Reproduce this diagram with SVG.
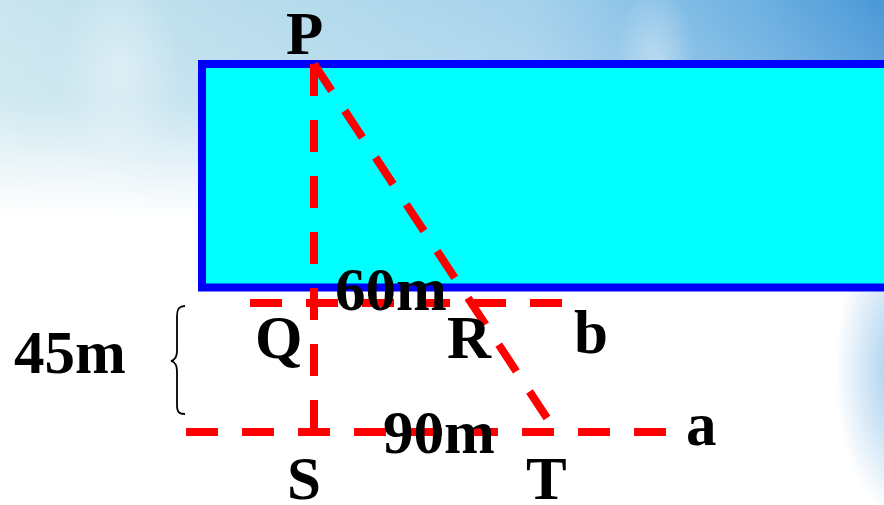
<svg xmlns="http://www.w3.org/2000/svg" width="884" height="505" viewBox="0 0 884 505">
  <defs>
    <linearGradient id="skyH" x1="0" y1="0" x2="1" y2="0">
      <stop offset="0" stop-color="#c9e5ee"/>
      <stop offset="0.35" stop-color="#b4daec"/>
      <stop offset="0.6" stop-color="#a6d2ec"/>
      <stop offset="0.85" stop-color="#6fb2e2"/>
      <stop offset="1" stop-color="#4a98d8"/>
    </linearGradient>
    <linearGradient id="fadeV" x1="0" y1="0" x2="0" y2="1">
      <stop offset="0" stop-color="#fff" stop-opacity="1"/>
      <stop offset="0.45" stop-color="#fff" stop-opacity="0.85"/>
      <stop offset="1" stop-color="#fff" stop-opacity="0"/>
    </linearGradient>
    <mask id="skyMask">
      <rect x="0" y="0" width="884" height="220" fill="url(#fadeV)"/>
    </mask>
    <radialGradient id="rightBlue" cx="0.5" cy="0.5" r="0.5">
      <stop offset="0" stop-color="#8cc0e8" stop-opacity="0.9"/>
      <stop offset="1" stop-color="#8cc0e8" stop-opacity="0"/>
    </radialGradient>
    <radialGradient id="whiteGlow" cx="0.5" cy="0.5" r="0.5">
      <stop offset="0" stop-color="#ffffff" stop-opacity="0.4"/>
      <stop offset="1" stop-color="#ffffff" stop-opacity="0"/>
    </radialGradient>
    <style>
      .lbl { font-family: "Liberation Serif", "Times New Roman", serif; font-weight: bold; font-size: 61px; fill: #000; }
      .dash { stroke: #ff0000; stroke-width: 8; fill: none; stroke-dasharray: 32 24; }
    </style>
  </defs>

  <!-- background -->
  <rect x="0" y="0" width="884" height="505" fill="#ffffff"/>
  <rect x="0" y="0" width="884" height="220" fill="url(#skyH)" mask="url(#skyMask)"/>
  <ellipse cx="120" cy="70" rx="60" ry="100" fill="url(#whiteGlow)"/>
  <ellipse cx="655" cy="70" rx="40" ry="90" fill="url(#whiteGlow)"/>
  <ellipse cx="60" cy="230" rx="140" ry="90" fill="url(#whiteGlow)"/>
  <ellipse cx="905" cy="370" rx="70" ry="150" fill="url(#rightBlue)"/>

  <!-- river -->
  <g id="river">
    <rect x="202" y="64" width="700" height="223.5" fill="#00ffff" stroke="#0000ff" stroke-width="8"/>
  </g>

  <!-- connectors -->
  <g id="connectors">
    <line class="dash" x1="314" y1="64" x2="314" y2="432"/>
    <line class="dash" x1="314" y1="64" x2="547" y2="418"/>
    <line class="dash" x1="250" y1="303" x2="562" y2="303"/>
    <line class="dash" x1="186" y1="432" x2="666" y2="432"/>
  </g>

  <!-- brace -->
  <g id="brace">
    <path d="M185,306 C179,306 177,309 177,316 L177,351 C177,357 175,360 171,361 C175,362 177,365 177,371 L177,405 C177,412 179,414 185,414" fill="none" stroke="#000" stroke-width="1.8"/>
  </g>

  <!-- labels -->
  <g id="P"><text class="lbl" x="286" y="54">P</text></g>
  <g id="Q"><text class="lbl" x="255" y="358">Q</text></g>
  <g id="R"><text class="lbl" x="447" y="358">R</text></g>
  <g id="b"><text class="lbl" x="574" y="353">b</text></g>
  <g id="a"><text class="lbl" x="686" y="445">a</text></g>
  <g id="S"><text class="lbl" x="287" y="499">S</text></g>
  <g id="T"><text class="lbl" x="526" y="499">T</text></g>
  <g id="len60"><text class="lbl" x="335" y="310">60m</text></g>
  <g id="len90"><text class="lbl" x="383" y="453">90m</text></g>
  <g id="len45"><text class="lbl" x="14" y="373">45m</text></g>
</svg>
